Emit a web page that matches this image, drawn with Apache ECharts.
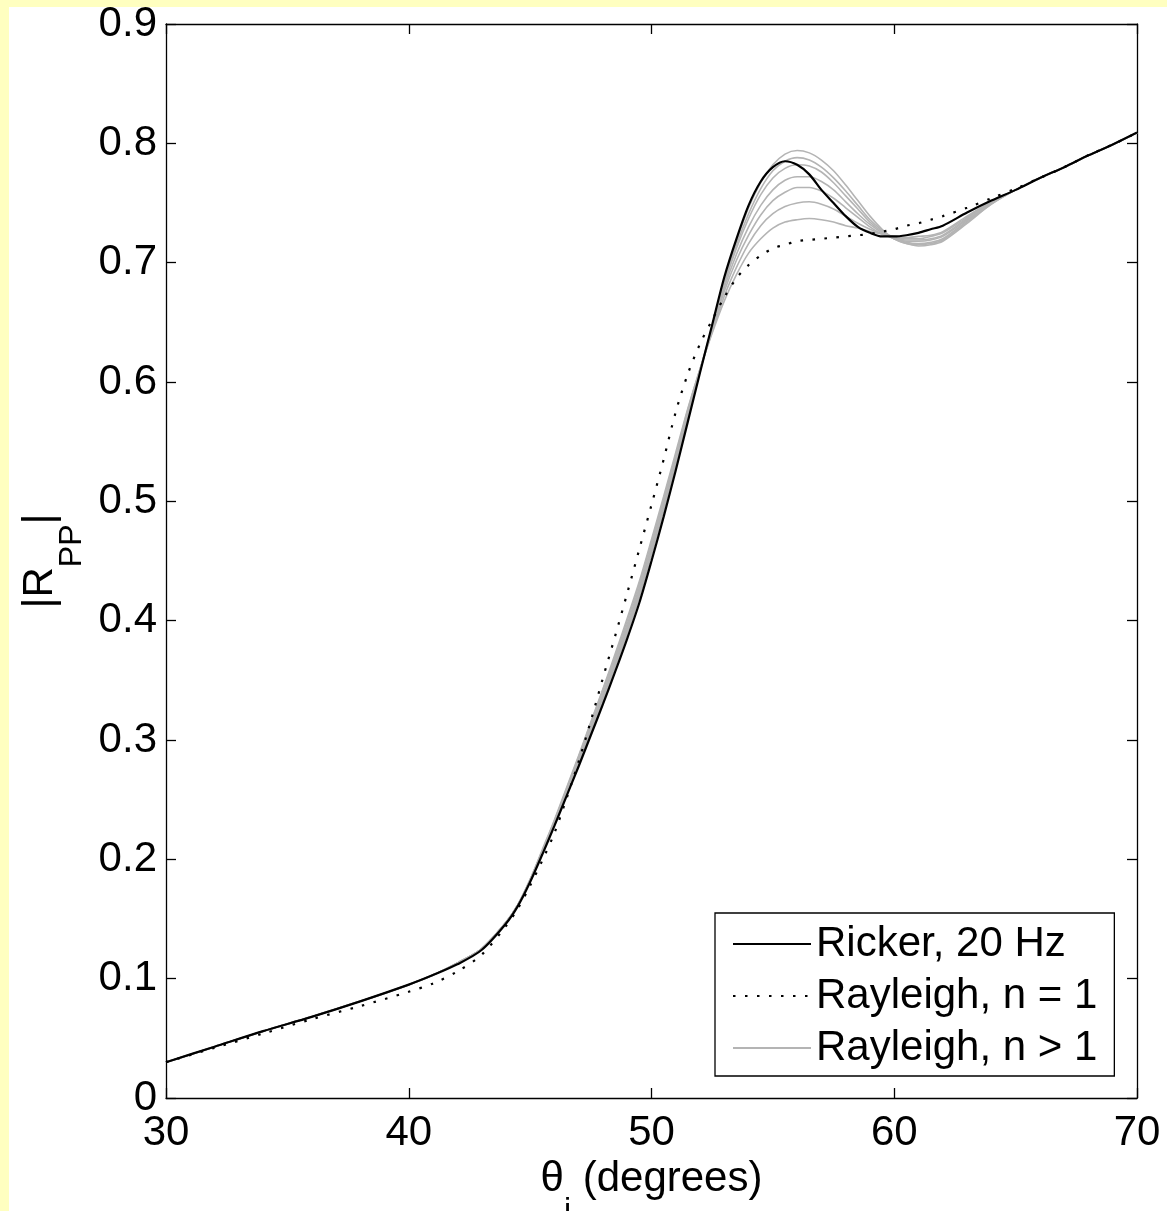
<!DOCTYPE html>
<html>
<head>
<meta charset="utf-8">
<script src="https://cdn.jsdelivr.net/npm/echarts@6/dist/echarts.min.js"></script>
<style>
html,body{margin:0;padding:0;background:#FFFFC0;width:1167px;height:1211px;overflow:hidden;}
#chart{position:absolute;left:9px;top:7px;width:1158px;height:1204px;background:#fff;}
</style>
</head>
<body>
<div id="chart"></div>
<script>
// incidence angle grid (degrees)
const theta = [30,32,34,36,38,40,41,42,43,44,44.5,45,45.5,46,46.5,47,47.5,48,48.5,49,49.5,50,50.5,51,51.5,52,
  52.5,53,53.5,54,54.5,55,55.5,56,56.5,57,57.5,58,58.5,59,59.5,60,60.5,61,61.5,62,63,64,65,66,67,68,69,70];

// Ricker, 20 Hz
const ricker = [0.030,0.043,0.056,0.068,0.081,0.095,0.103,0.112,0.124,0.146,0.161,0.181,0.204,0.228,0.253,0.278,0.304,0.330,0.357,0.385,0.415,0.450,0.487,0.526,0.567,0.608,
  0.648,0.688,0.720,0.748,0.768,0.780,0.785,0.782,0.774,0.761,0.750,0.739,0.730,0.725,0.722,0.722,0.723,0.725,0.728,0.731,0.742,0.752,0.761,0.771,0.780,0.790,0.799,0.809];

// Rayleigh, n = 1
const rayleigh1 = [0.030,0.042,0.054,0.066,0.077,0.089,0.096,0.106,0.120,0.144,0.159,0.178,0.199,0.222,0.251,0.282,0.316,0.352,0.387,0.423,0.460,0.497,0.535,0.575,0.607,0.632,
  0.652,0.671,0.687,0.698,0.706,0.712,0.715,0.718,0.719,0.720,0.721,0.722,0.723,0.724,0.726,0.728,0.731,0.733,0.736,0.739,0.746,0.754,0.762,0.771,0.780,0.790,0.799,0.809];

// Rayleigh, n > 1 : shared low branch (30..44.5), per-curve middle (45..64), shared high branch (65..70)
const grayLow  = [0.030,0.043,0.056,0.068,0.081,0.095,0.103,0.113,0.125,0.147,0.162];
const grayHigh = [0.761,0.771,0.780,0.790,0.799,0.809];
const grayMid1 = [0.182,0.205,0.230,0.255,0.281,0.307,0.333,0.361,0.389,0.420,0.455,0.492,0.531,0.571,0.610,
  0.647,0.686,0.718,0.746,0.767,0.782,0.791,0.794,0.792,0.786,0.777,0.765,0.752,0.739,0.728,0.720,0.716,0.714,0.715,0.718,0.733,0.749];
const grayMid2 = [0.182,0.205,0.230,0.256,0.282,0.308,0.335,0.363,0.392,0.422,0.457,0.494,0.532,0.571,0.609,
  0.646,0.684,0.715,0.741,0.762,0.777,0.785,0.788,0.786,0.780,0.771,0.760,0.748,0.736,0.727,0.720,0.716,0.715,0.716,0.719,0.734,0.749];
const grayMid3 = [0.182,0.206,0.231,0.256,0.283,0.309,0.336,0.364,0.393,0.424,0.459,0.495,0.533,0.572,0.610,
  0.645,0.682,0.712,0.737,0.757,0.771,0.779,0.782,0.781,0.776,0.767,0.756,0.745,0.734,0.726,0.720,0.717,0.716,0.717,0.720,0.735,0.750];
const grayMid4 = [0.182,0.206,0.231,0.257,0.284,0.311,0.338,0.366,0.395,0.426,0.461,0.497,0.535,0.574,0.610,
  0.644,0.679,0.707,0.730,0.748,0.761,0.769,0.772,0.772,0.768,0.761,0.751,0.741,0.732,0.725,0.720,0.718,0.718,0.719,0.722,0.736,0.750];
const grayMid5 = [0.183,0.207,0.232,0.258,0.285,0.312,0.339,0.368,0.397,0.428,0.463,0.499,0.537,0.575,0.610,
  0.643,0.676,0.702,0.723,0.740,0.752,0.759,0.763,0.763,0.760,0.754,0.746,0.738,0.730,0.724,0.721,0.719,0.719,0.720,0.723,0.737,0.751];
const grayMid6 = [0.183,0.207,0.232,0.259,0.286,0.314,0.342,0.370,0.400,0.431,0.466,0.502,0.539,0.577,0.611,
  0.642,0.672,0.696,0.716,0.731,0.741,0.747,0.750,0.751,0.749,0.745,0.739,0.733,0.728,0.724,0.721,0.720,0.720,0.722,0.725,0.738,0.751];
const grayMid7 = [0.183,0.208,0.233,0.260,0.287,0.315,0.343,0.372,0.402,0.433,0.468,0.504,0.541,0.578,0.611,
  0.641,0.668,0.690,0.708,0.720,0.729,0.734,0.736,0.737,0.736,0.734,0.731,0.729,0.726,0.724,0.722,0.721,0.722,0.723,0.726,0.739,0.751];

const xTicks = [30,40,50,60,70];
const yTicks = [0,0.1,0.2,0.3,0.4,0.5,0.6,0.7,0.8,0.9];

const FONT = '"Liberation Sans", Arial, Helvetica, sans-serif';
const pairs = vals => theta.map((t,i)=>[t, vals[i]]);

const grayMids = [grayMid1,grayMid2,grayMid3,grayMid4,grayMid5,grayMid6,grayMid7];
const graySeries = grayMids.map(m => ({
  name: 'Rayleigh, n > 1', type: 'line', symbol: 'none', smooth: 0.3,
  data: pairs(grayLow.concat(m, grayHigh)),
  lineStyle: {color: '#b4b4b4', width: 1.6}, itemStyle: {color: '#b4b4b4'},
  xAxisIndex: 0, yAxisIndex: 0, z: 2
}));

const rich = {
  m: {fontSize: 42, fontFamily: FONT, color: '#000', verticalAlign: 'bottom', padding: [0,0,26,0]},
  s: {fontSize: 32, fontFamily: FONT, color: '#000', verticalAlign: 'bottom'}
};

const axisCommon = {
  axisLine: {show: true, onZero: false, lineStyle: {color: '#000', width: 1.3}},
  axisTick: {show: true, inside: true, length: 10, lineStyle: {color: '#000', width: 1.3}},
  splitLine: {show: false}
};

const chart = echarts.init(document.getElementById('chart'), null, {renderer: 'canvas'});
chart.setOption({
  animation: false,
  backgroundColor: '#fff',
  grid: {left: 157, top: 17, width: 971, height: 1074, containLabel: false, outerBoundsMode: 'none'},
  xAxis: [
    Object.assign({type: 'value', position: 'bottom', min: xTicks[0], max: xTicks[xTicks.length-1], interval: 10,
      axisLabel: {fontSize: 42, fontFamily: FONT, color: '#000', margin: 14},
      name: '{m|θ}{s|i}{m| (degrees)}', nameLocation: 'middle', nameGap: 58,
      nameTextStyle: {rich: rich}}, axisCommon),
    Object.assign({type: 'value', position: 'top', min: xTicks[0], max: xTicks[xTicks.length-1], interval: 10,
      axisLabel: {show: false}}, axisCommon)
  ],
  yAxis: [
    Object.assign({type: 'value', position: 'left', min: yTicks[0], max: yTicks[yTicks.length-1], interval: 0.1,
      axisLabel: {fontSize: 42, fontFamily: FONT, color: '#000', margin: 9,
        formatter: v => String(+v.toFixed(1))},
      name: '{m||R}{s|PP}{m||}', nameLocation: 'middle', nameRotate: 90, nameGap: 74,
      nameTextStyle: {rich: rich}}, axisCommon),
    Object.assign({type: 'value', position: 'right', min: yTicks[0], max: yTicks[yTicks.length-1], interval: 0.1,
      axisLabel: {show: false}}, axisCommon)
  ],
  legend: {
    data: ['Ricker, 20 Hz', 'Rayleigh, n = 1', 'Rayleigh, n > 1'],
    orient: 'vertical', left: 706, top: 906,
    backgroundColor: '#fff', borderColor: '#000', borderWidth: 1.3, borderRadius: 0,
    padding: [10, 17, 7, 17], itemGap: 10, itemWidth: 78, itemHeight: 14,
    itemStyle: {opacity: 0},
    textStyle: {fontSize: 42, fontFamily: FONT, color: '#000', lineHeight: 42},
    selectedMode: false
  },
  series: graySeries.concat([
    {name: 'Rayleigh, n = 1', type: 'line', symbol: 'none', smooth: 0.3, data: pairs(rayleigh1),
     lineStyle: {color: '#000', width: 2.2, type: [2.5, 9.5]}, itemStyle: {color: '#000'}, z: 3},
    {name: 'Ricker, 20 Hz', type: 'line', symbol: 'none', smooth: 0.3, data: pairs(ricker),
     lineStyle: {color: '#000', width: 2.2}, itemStyle: {color: '#000'}, z: 4}
  ])
});
</script>
</body>
</html>
